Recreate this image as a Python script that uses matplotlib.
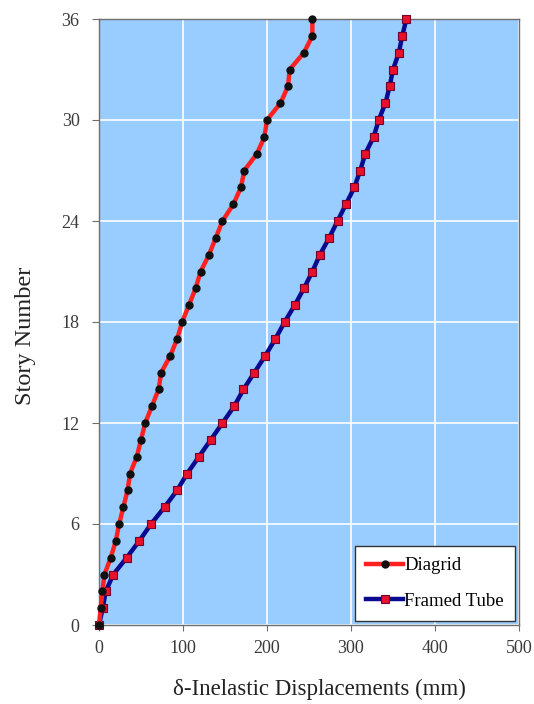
import matplotlib
matplotlib.use("Agg")
import matplotlib.pyplot as plt

stories = list(range(0, 37))
diagrid = [0, 2, 4, 6.5, 14, 20, 24, 29, 34, 37, 45, 50, 55, 63, 71, 74, 85, 93, 99,
           107, 115, 121, 131, 139, 147, 160, 169, 173, 188, 197, 200, 216, 225, 227,
           244, 254, 254]
framed = [0, 4.5, 8, 17, 33, 48, 62, 78, 93, 105, 119, 133, 147, 161, 172, 185, 198,
          210, 221, 233, 244, 254, 263, 274, 284, 294, 304, 311, 317, 327, 333, 341,
          346, 350, 357, 361, 366]
xticks = [0, 100, 200, 300, 400, 500]
yticks = [0, 6, 12, 18, 24, 30, 36]

plt.rcParams['font.family'] = ['Liberation Serif', 'DejaVu Serif']

fig = plt.figure(figsize=(5.34, 7.04), dpi=100)
ax = fig.add_axes([99/534, 79/704, 420/534, 606/704])
ax.set_facecolor('#99CCFF')
ax.set_xlim(0, 500)
ax.set_ylim(0, 36)
ax.set_xticks(xticks)
ax.set_yticks(yticks)
ax.grid(True, color='white', linewidth=1.2)
ax.set_axisbelow(True)
for s in ax.spines.values():
    s.set_color('#6E6E6E')
    s.set_linewidth(1.0)
ax.tick_params(axis='y', direction='out', length=5, color='#6E6E6E', pad=9,
               labelsize=13, labelcolor='#3A3A3A')
ax.tick_params(axis='x', direction='out', length=4, color='#6E6E6E', pad=7,
               labelsize=13, labelcolor='#3A3A3A')

ax.plot(diagrid, stories, color='#FF2020', linewidth=3.2, marker='o', markersize=5,
        markerfacecolor='#101010', markeredgecolor='#101010', label='Diagrid',
        clip_on=False, zorder=4)
ax.plot(framed, stories, color='#0A0A90', linewidth=3.2, marker='s', markersize=5.5,
        markerfacecolor='#E8102A', markeredgecolor='#700030', markeredgewidth=0.8,
        label='Framed Tube', clip_on=False, zorder=3)

ax.set_xlabel('\u03b4-Inelastic Displacements (mm)', fontsize=16.5, color='#222222')
ax.set_ylabel('Story Number', fontsize=17.5, color='#222222')
ax.xaxis.set_label_coords(0.524, -0.088)
ax.yaxis.set_label_coords(-0.15, 0.477)

leg = ax.legend(loc='lower right', fontsize=13.5, frameon=True, fancybox=False,
                edgecolor='#333333', framealpha=1, handlelength=2.0, handletextpad=0.05,
                borderpad=0.6, labelspacing=1.0, borderaxespad=0.2)
leg.get_frame().set_linewidth(1.0)

fig.savefig('out.png', dpi=100)
